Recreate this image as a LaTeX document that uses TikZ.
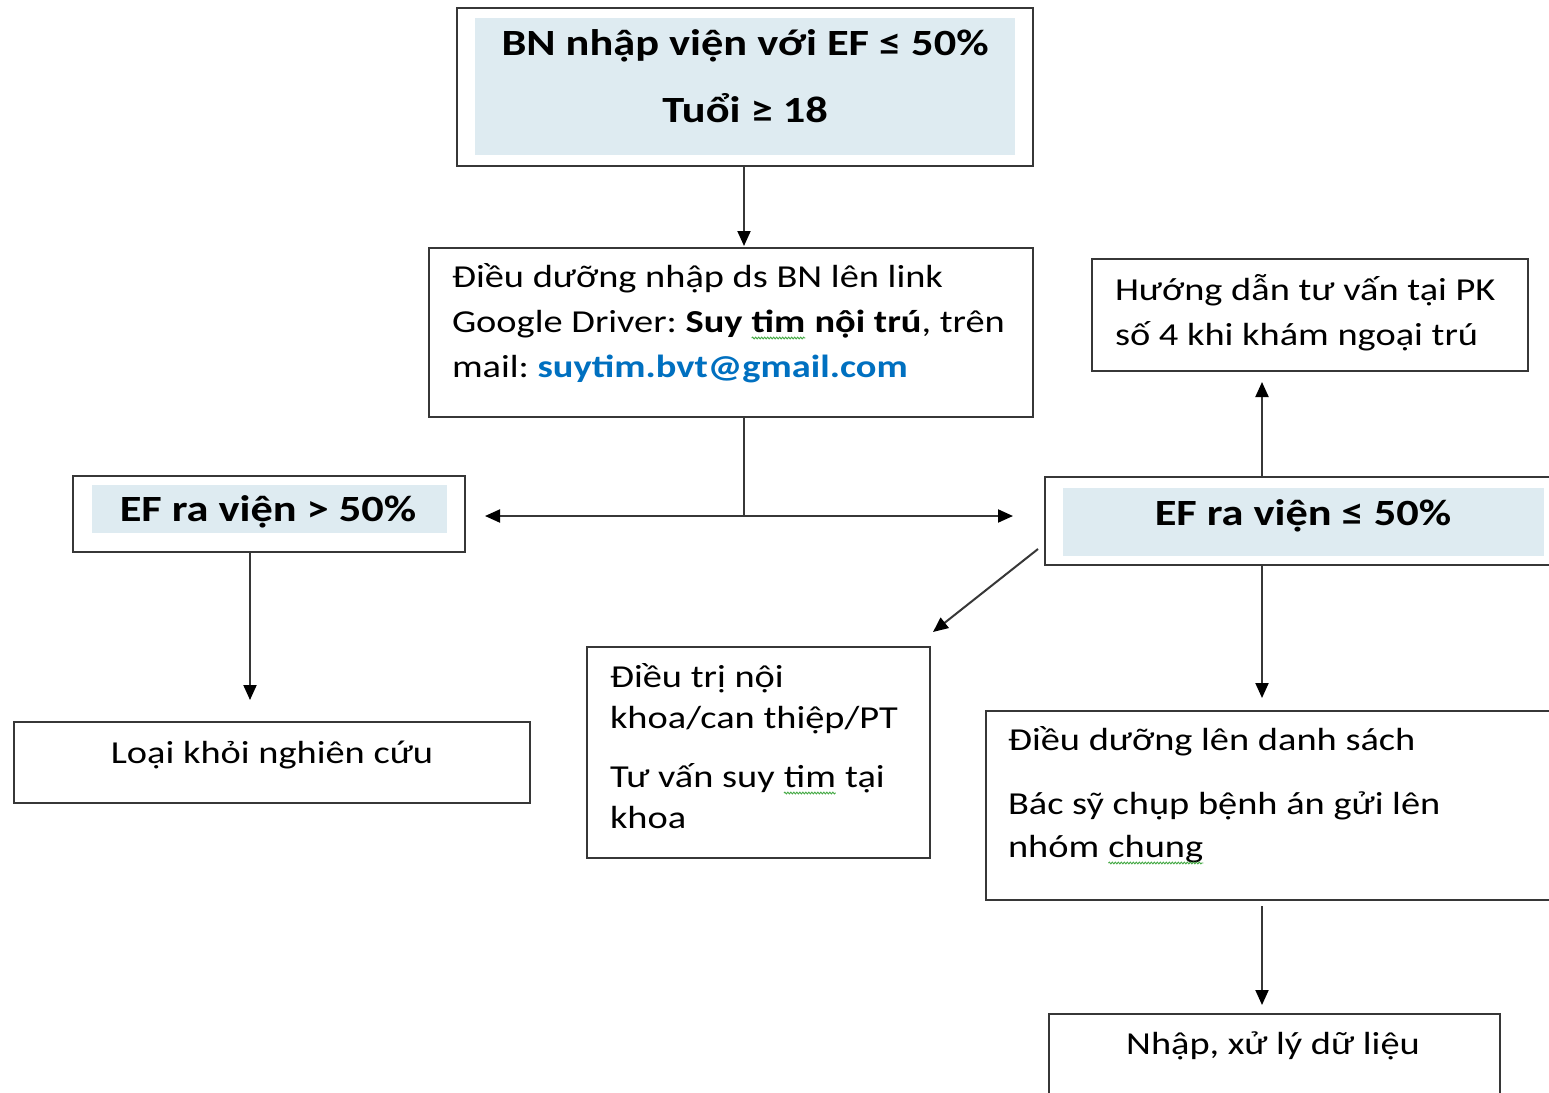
\documentclass[tikz,border=0pt]{standalone}
\usepackage{fontspec}
\setmainfont{Carlito}[FakeStretch=1.2]
\usetikzlibrary{arrows.meta,decorations.pathmorphing}
\definecolor{paleblue}{RGB}{222,235,241}
\definecolor{linkblue}{RGB}{0,112,192}
\definecolor{edge}{RGB}{55,55,55}
\definecolor{sqgreen}{RGB}{70,170,70}
\newcommand\squig[1]{\tikz[baseline=(sq.base)]{\node[inner sep=0pt,outer sep=0pt,anchor=base,draw=none,fill=none](sq){#1};\draw[sqgreen,line width=0.9pt,decorate,decoration={snake,amplitude=0.9pt,segment length=3pt}]([yshift=-6pt]sq.base west)--([yshift=-6pt]sq.base east);}}
\begin{document}
\frenchspacing
\begin{tikzpicture}[x=1pt,y=-1pt,
  box/.style={draw=edge,line width=2pt,inner sep=0pt,outer sep=0pt,anchor=north west},
  txt/.style={inner sep=0pt,outer sep=0pt,font=\fontsize{32}{45}\selectfont\frenchspacing,align=left,text=black},
  head/.style={inner sep=0pt,outer sep=0pt,font=\fontsize{37}{67}\selectfont\bfseries,align=center,text=black},
  conn/.style={draw=edge,line width=2pt},
  arr/.style={conn,-{Triangle[length=15pt,width=13pt,color=black]}}
]
\useasboundingbox (0,0) rectangle (1549,1092);
\clip (0,0) rectangle (1549,1092);
\fill[white] (0,0) rectangle (1549,1092);
% shaded bands
\fill[paleblue] (475,18) rectangle (1015,155);
\fill[paleblue] (92,485) rectangle (447,533);
\fill[paleblue] (1063,488) rectangle (1544,556);
% boxes
\node[box,minimum width=576,minimum height=158] (top) at (457,8) {};
\node[box,minimum width=604,minimum height=169] (b2) at (429,248) {};
\node[box,minimum width=436,minimum height=112] (huong) at (1092,259) {};
\node[box,minimum width=392,minimum height=76] (left) at (73,476) {};
\node[box,minimum width=520,minimum height=88] (right) at (1045,477) {};
\node[box,minimum width=516,minimum height=81] (loai) at (14,722) {};
\node[box,minimum width=343,minimum height=211] (dieutri) at (587,647) {};
\node[box,minimum width=580,minimum height=189] (dsach) at (986,711) {};
\node[box,minimum width=451,minimum height=100] (nhap) at (1049,1014) {};
% texts (anchor base = baseline of the last line)
\node[head,anchor=base] (ttop) at (745,122) {BN nhập viện với EF ≤ 50\%\\Tuổi ≥ 18};
\node[txt,anchor=base west] (tb2) at (452,377) {Điều dưỡng nhập ds BN lên link\\Google Driver: \textbf{Suy \squig{tim} nội trú}, trên\\mail: \textcolor{linkblue}{\textbf{suytim.bvt@gmail.com}}};
\node[txt,anchor=base west] (thuong) at (1115,345) {Hướng dẫn tư vấn tại PK\\số 4 khi khám ngoại trú};
\node[head,anchor=base] (tleft) at (268,521) {EF ra viện > 50\%};
\node[head,anchor=base] (tright) at (1303,525) {EF ra viện ≤ 50\%};
\node[txt,anchor=base] (tloai) at (272,763) {Loại khỏi nghiên cứu};
\node[txt,anchor=base west,font=\fontsize{32}{41}\selectfont] (tdieutri) at (610,828) {Điều trị nội\\khoa/can thiệp/PT\\[18pt]Tư vấn suy \squig{tim} tại\\khoa};
\node[txt,anchor=base west,font=\fontsize{32}{43}\selectfont] (tdsach) at (1008,857) {Điều dưỡng lên danh sách\\[21pt]Bác sỹ chụp bệnh án gửi lên\\nhóm \squig{chung}};
\node[txt,anchor=base] (tnhap) at (1273,1054) {Nhập, xử lý dữ liệu};
% connectors
\coordinate (xa) at (744,0);
\coordinate (xl) at (250,0);
\coordinate (xr) at (1262,0);
\coordinate (split) at (744,516);
\draw[arr] (top.south -| xa) -- ([yshift=2pt]b2.north -| xa);
\draw[conn] (b2.south -| xa) -- (split);
\draw[arr] (split) -- ([xshift=20pt]left.east |- split);
\draw[arr] (split) -- ([xshift=-32pt]right.west |- split);
\draw[arr] (left.south -| xl) -- ([yshift=22pt]loai.north -| xl);
\draw[arr] (right.north -| xr) -- ([yshift=-11pt]huong.south -| xr);
\draw[arr] (right.south -| xr) -- ([yshift=13pt]dsach.north -| xr);
\draw[arr] ([yshift=-6pt]dsach.south -| xr) -- ([yshift=9pt]nhap.north -| xr);
\draw[arr] ([xshift=-7pt,yshift=-28pt]right.west) -- ([xshift=3pt,yshift=15pt]dieutri.north east);
\end{tikzpicture}
\end{document}
